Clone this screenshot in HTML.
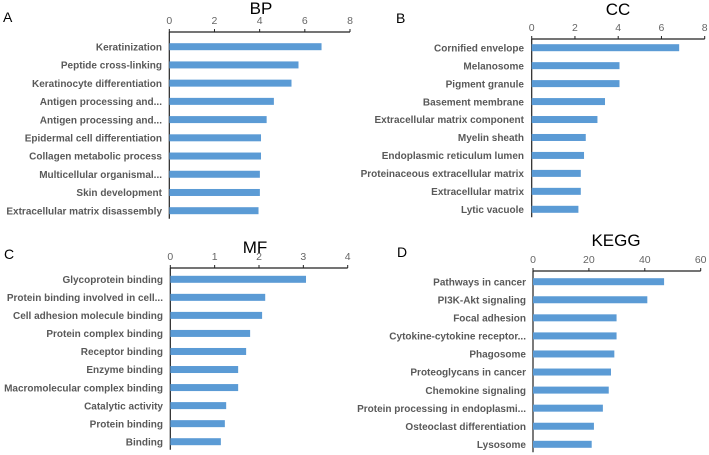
<!DOCTYPE html>
<html><head><meta charset="utf-8"><style>
html,body{margin:0;padding:0;background:#fff;}
svg{display:block;}
text{font-family:"Liberation Sans",Arial,sans-serif;}
</style></head><body>
<svg id="chart" width="709" height="455" viewBox="0 0 709 455"></svg>
<script>
const bpCategories=["Keratinization","Peptide cross-linking","Keratinocyte differentiation","Antigen processing and...","Antigen processing and...","Epidermal cell differentiation","Collagen metabolic process","Multicellular organismal...","Skin development","Extracellular matrix disassembly"];
const bpValues=[6.74,5.72,5.41,4.63,4.31,4.06,4.06,4.01,4.01,3.95];
const bpTicks=[0,2,4,6,8];
const ccCategories=["Cornified envelope","Melanosome","Pigment granule","Basement membrane","Extracellular matrix component","Myelin sheath","Endoplasmic reticulum lumen","Proteinaceous extracellular matrix","Extracellular matrix","Lytic vacuole"];
const ccValues=[6.82,4.06,4.06,3.39,3.04,2.50,2.42,2.27,2.27,2.16];
const ccTicks=[0,2,4,6,8];
const mfCategories=["Glycoprotein binding","Protein binding involved in cell...","Cell adhesion molecule binding","Protein complex binding","Receptor binding","Enzyme binding","Macromolecular complex binding","Catalytic activity","Protein binding","Binding"];
const mfValues=[3.06,2.14,2.07,1.80,1.71,1.53,1.53,1.26,1.23,1.14];
const mfTicks=[0,1,2,3,4];
const keggCategories=["Pathways in cancer","PI3K-Akt signaling","Focal adhesion","Cytokine-cytokine receptor...","Phagosome","Proteoglycans in cancer","Chemokine signaling","Protein processing in endoplasmi...","Osteoclast differentiation","Lysosome"];
const keggValues=[46.9,40.9,29.9,29.9,29.1,27.9,27.1,25.0,21.8,21.0];
const keggTicks=[0,20,40,60];

const NS="http://www.w3.org/2000/svg";
const svg=document.getElementById('chart');
function mk(tag,attrs,parent,txt){const e=document.createElementNS(NS,tag);for(const k in attrs)e.setAttribute(k,attrs[k]);if(txt!==undefined)e.textContent=txt;parent.appendChild(e);return e;}

function panel(key,cfg,cats,vals,ticks){
  const g=mk('g',{},svg);
  
  
  const maxT=ticks[ticks.length-1];
  const x=v=>cfg.x0+(v/maxT)*(cfg.x1-cfg.x0);
  const n=cats.length;
  const y=i=>cfg.yFirst+i*(cfg.yLast-cfg.yFirst)/(n-1);
  const letter=mk('text',{x:cfg.lx,y:cfg.ly,'font-size':14,fill:'#000'},g,cfg.letter);
  
  
  const title=mk('text',{x:cfg.tx,y:cfg.ty,'font-size':17,fill:'#000','text-anchor':'middle'},g,cfg.title);
  
  
  const axis=mk('line',{x1:cfg.x0,x2:cfg.x1,y1:cfg.ay,y2:cfg.ay,stroke:'#222','stroke-width':1.2},g);
  
  
  const yaxis=mk('line',{x1:cfg.x0,x2:cfg.x0,y1:cfg.ay,y2:cfg.yLast+8,stroke:'#222','stroke-width':1.2},g);
  
  
  ticks.forEach(t=>{
    const tk=mk('line',{x1:x(t),x2:x(t),y1:cfg.ay-3,y2:cfg.ay,stroke:'#222','stroke-width':1},g);
    
    
    const tl=mk('text',{x:x(t),y:cfg.ay-8,'font-size':10.5,fill:'#666','text-anchor':'middle'},g,String(t));
    
    
  });
  cats.forEach((c,i)=>{
    const b=mk('rect',{x:cfg.x0,y:y(i)-3.5,width:x(vals[i])-cfg.x0,height:7,fill:'#5b9bd5'},g);
    
    
    const l=mk('text',{x:cfg.labX,y:y(i)+3.7,'font-size':10,'font-weight':'bold',fill:'#595959','text-anchor':'end'},g,c);
    
    
  });
}
panel('bp',{letter:'A',lx:3,ly:22,title:'BP',tx:261,ty:14,x0:169.3,x1:350,ay:32,yFirst:46.7,yLast:210.7,labX:162},bpCategories,bpValues,bpTicks);
panel('cc',{letter:'B',lx:396,ly:23,title:'CC',tx:618,ty:15,x0:531.7,x1:704.7,ay:39,yFirst:47.7,yLast:209.3,labX:524},ccCategories,ccValues,ccTicks);
panel('mf',{letter:'C',lx:4,ly:259,title:'MF',tx:255,ty:253,x0:170.3,x1:347.7,ay:268,yFirst:279.3,yLast:441.7,labX:163},mfCategories,mfValues,mfTicks);
panel('kegg',{letter:'D',lx:397,ly:257,title:'KEGG',tx:616,ty:246,x0:533,x1:700.7,ay:271,yFirst:281.7,yLast:444.3,labX:526},keggCategories,keggValues,keggTicks);
</script>
</body></html>
